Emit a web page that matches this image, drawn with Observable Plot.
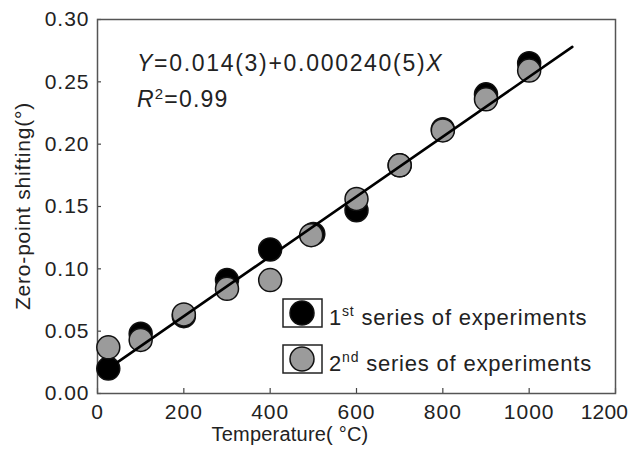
<!DOCTYPE html>
<html><head><meta charset="utf-8">
<script src="https://cdn.jsdelivr.net/npm/d3@7"></script>
<script src="https://cdn.jsdelivr.net/npm/@observablehq/plot@0.6"></script>
<style>
body{margin:0;background:#fff;}
#chart svg{font-family:"Liberation Sans",Arial,sans-serif;}
</style></head><body><div id="chart"></div>
<script>
const temps1 = [25,100,200,300,400,500,600,700,800,900,1000];
const shift1 = [0.020,0.048,0.062,0.091,0.1155,0.128,0.147,0.183,0.212,0.240,0.265];
const temps2 = [25,100,200,300,400,495,600,700,800,900,1000];
const shift2 = [0.037,0.043,0.0634,0.084,0.091,0.127,0.156,0.183,0.211,0.236,0.259];
const fitX = [25,1100];
const fitY = [0.020,0.278];
const xTicks = [0,200,400,600,800,1000,1200];
const yTicks = [0,0.05,0.10,0.15,0.20,0.25,0.30];
const seriesLabels = [["1","st"," series of experiments"],["2","nd"," series of experiments"]];
const seriesFills = ["#000000","#9b9b9b"];
const xTitle = "Temperature( °C)";
const yTitle = "Zero-point shifting(°)";

const s1 = temps1.map((t,i)=>({t, v: shift1[i]}));
const s2 = temps2.map((t,i)=>({t, v: shift2[i]}));
const fit = fitX.map((t,i)=>({t, v: fitY[i]}));

const W = 633, H = 450;
const mL = 97, mR = 18, mT = 19, mB = 57;

const plot = Plot.plot({
  width: W, height: H,
  marginLeft: mL, marginRight: mR, marginTop: mT, marginBottom: mB,
  x: {domain: [0,1200]},
  y: {domain: [0,0.30]},
  style: {fontFamily: "'Liberation Sans', Arial, sans-serif", color: "#222", background: "#fff"},
  marks: [
    Plot.axisX({ticks: xTicks, tickSize: -5, tickPadding: 16, tickFormat: d => String(d), fontSize: 21, label: null, stroke: "#444", strokeWidth: 1.2}),
    Plot.axisY({ticks: yTicks, tickSize: -4, tickPadding: 12, tickFormat: d3.format(".2f"), fontSize: 21, label: null, stroke: "#444", strokeWidth: 1.2}),
    Plot.frame({stroke: "#555", strokeWidth: 1.5}),
    Plot.dot(s1, {x: "t", y: "v", r: 11.5, fill: seriesFills[0], stroke: "#111", strokeWidth: 1.5}),
    Plot.dot(s2, {x: "t", y: "v", r: 11.5, fill: seriesFills[1], stroke: "#111", strokeWidth: 1.5}),
    Plot.line(fit, {x: "t", y: "v", stroke: "#000", strokeWidth: 2.6})
  ]
});
document.getElementById("chart").append(plot);

const svg = d3.select(plot);
svg.selectAll("g[aria-label='x-axis tick label'] text, g[aria-label='y-axis tick label'] text").attr("letter-spacing", "1px");
// keep the last x tick label inside the picture
const xLabs = svg.selectAll("g[aria-label='x-axis tick label'] text").nodes();
d3.select(xLabs[xLabs.length - 1]).attr("letter-spacing", "0.2px").attr("dx", -11);

// equation
const eq = svg.append("text").attr("x", 137).attr("y", 71).attr("text-anchor", "start").attr("font-size", 23).attr("fill", "#222").attr("letter-spacing", "1.7px");
eq.append("tspan").attr("font-style", "italic").text("Y");
eq.append("tspan").text("=0.014(3)+0.000240(5)");
eq.append("tspan").attr("font-style", "italic").text("X");
const r2 = svg.append("text").attr("x", 137).attr("y", 107).attr("text-anchor", "start").attr("font-size", 23).attr("fill", "#222").attr("letter-spacing", "1.2px");
r2.append("tspan").attr("font-style", "italic").text("R");
r2.append("tspan").attr("font-size", 15).attr("dy", -8).text("2");
r2.append("tspan").attr("dy", 8).text("=0.99");

// legend
const lg = svg.append("g");
seriesLabels.forEach((lab, i) => {
  const y0 = 299 + i * 46;
  lg.append("rect").attr("x", 283).attr("y", y0).attr("width", 39).attr("height", 28)
    .attr("fill", "#fff").attr("stroke", "#222").attr("stroke-width", 1.5);
  lg.append("circle").attr("cx", 302).attr("cy", y0 + 14).attr("r", 12)
    .attr("fill", seriesFills[i]).attr("stroke", "#111").attr("stroke-width", 1.5);
  const t = lg.append("text").attr("x", 329).attr("y", y0 + 26).attr("text-anchor", "start").attr("font-size", 22).attr("fill", "#222").attr("letter-spacing", "0.8px");
  t.append("tspan").text(lab[0]);
  t.append("tspan").attr("font-size", 14).attr("dy", -9).text(lab[1]);
  t.append("tspan").attr("dy", 9).text(lab[2]);
});

// axis titles
svg.append("text").attr("x", 290).attr("y", 441).attr("text-anchor", "middle")
  .attr("font-size", 20).attr("fill", "#222").attr("letter-spacing", "0.2px").text(xTitle);
svg.append("text").attr("transform", "translate(30,206) rotate(-90)").attr("text-anchor", "middle")
  .attr("font-size", 21).attr("fill", "#222").attr("letter-spacing", "0.8px").text(yTitle);
</script></body></html>
